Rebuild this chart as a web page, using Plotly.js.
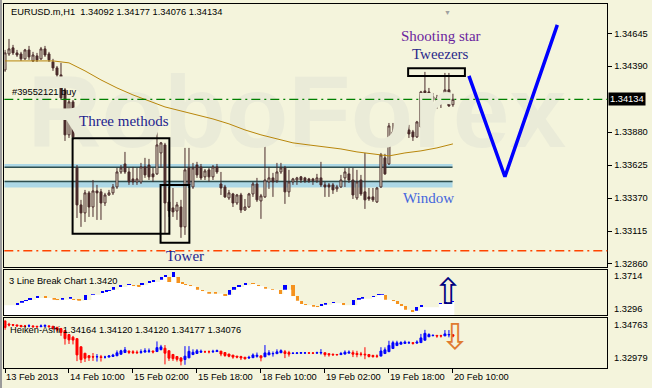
<!DOCTYPE html>
<html><head><meta charset="utf-8">
<script src="https://cdn.plot.ly/plotly-3.0.1.min.js"></script>
<style>html,body{margin:0;padding:0;background:#F4F4DC;}#chart{width:652px;height:388px;}</style>
</head><body><div id="chart"></div>
<script>
// ---------- main pane: EURUSD.m H1 candles ----------
const open = [1.34361,1.34485,1.34532,1.34493,1.34485,1.34447,1.34516,1.34431,1.34470,1.34447,
1.34524,1.34485,1.34423,1.34377,1.34323,1.34207,1.33859,1.34114,1.33603,1.33317,
1.33255,1.33410,1.33301,1.33425,1.33418,1.33332,1.33394,1.33410,1.33456,1.33572,
1.33634,1.33572,1.33518,1.33495,1.33495,1.33611,1.33626,1.33557,1.33557,1.33719,
1.33781,1.33340,1.33294,1.33270,1.33301,1.33147,1.33603,1.33456,1.33626,1.33611,
1.33534,1.33588,1.33534,1.33611,1.33479,1.33456,1.33371,1.33402,1.33332,1.33394,
1.33278,1.33301,1.33402,1.33479,1.33348,1.33379,1.33495,1.33526,1.33503,1.33572,
1.33603,1.33418,1.33495,1.33510,1.33534,1.33526,1.33518,1.33518,1.33503,1.33526,
1.33472,1.33472,1.33472,1.33441,1.33456,1.33526,1.33557,1.33510,1.33371,1.33510,
1.33418,1.33379,1.33379,1.33340,1.33456,1.33681,1.33634,1.33882,1.33866,1.33882,
1.33882,1.33897,1.33882,1.33843,1.33920,1.34199,1.34191,1.34153,1.34122,1.34145,
1.34129,1.34207,1.34092];
const high = [1.34516,1.34601,1.34555,1.34516,1.34501,1.34524,1.34547,1.34501,1.34493,1.34539,
1.34547,1.34501,1.34447,1.34392,1.34416,1.34245,1.34129,1.34129,1.33626,1.33356,
1.33433,1.33425,1.33510,1.33472,1.33441,1.33410,1.33433,1.33479,1.33603,1.33626,
1.33727,1.33603,1.33611,1.33603,1.33642,1.33681,1.33673,1.33603,1.33928,1.33804,
1.33797,1.33456,1.33448,1.33340,1.33356,1.33758,1.33758,1.33642,1.33650,1.33634,
1.33595,1.33603,1.33626,1.33634,1.33572,1.33472,1.33433,1.33410,1.33402,1.33410,
1.33363,1.33410,1.33495,1.33526,1.33402,1.33797,1.33611,1.33565,1.33642,1.33642,
1.33619,1.33588,1.33526,1.33534,1.33541,1.33534,1.33526,1.33526,1.33557,1.33650,
1.33495,1.33487,1.33487,1.33472,1.33549,1.33603,1.33603,1.33603,1.33588,1.33549,
1.33719,1.33448,1.33448,1.33456,1.33719,1.33712,1.33951,1.33951,1.33951,1.33936,
1.33959,1.33936,1.33897,1.33967,1.34199,1.34346,1.34222,1.34183,1.34168,1.34168,
1.34338,1.34338,1.34177];
const low = [1.34346,1.34470,1.34477,1.34462,1.34431,1.34439,1.34439,1.34423,1.34423,1.34439,
1.34462,1.34423,1.34354,1.34284,1.34129,1.33812,1.33835,1.33820,1.33216,1.33147,
1.33185,1.33224,1.33224,1.33201,1.33201,1.33309,1.33387,1.33394,1.33441,1.33557,
1.33557,1.33472,1.33472,1.33472,1.33479,1.33526,1.33510,1.33495,1.33549,1.33603,
1.33100,1.33224,1.33224,1.33201,1.33062,1.33085,1.33448,1.33441,1.33526,1.33510,
1.33510,1.33495,1.33510,1.33557,1.33394,1.33371,1.33356,1.33301,1.33317,1.33255,
1.33270,1.33294,1.33379,1.33340,1.33209,1.33371,1.33441,1.33379,1.33487,1.33557,
1.33325,1.33379,1.33472,1.33472,1.33487,1.33487,1.33487,1.33472,1.33487,1.33456,
1.33379,1.33379,1.33402,1.33418,1.33448,1.33456,1.33487,1.33363,1.33356,1.33387,
1.33286,1.33348,1.33340,1.33332,1.33448,1.33549,1.33626,1.33843,1.33812,1.33851,
1.33866,1.33835,1.33812,1.33835,1.33913,1.34153,1.34137,1.34114,1.34060,1.34067,
1.34122,1.34075,1.34076];
const close = [1.34493,1.34524,1.34493,1.34477,1.34447,1.34516,1.34462,1.34477,1.34439,1.34524,
1.34477,1.34439,1.34377,1.34323,1.34145,1.33859,1.34114,1.33843,1.33317,1.33255,
1.33410,1.33301,1.33425,1.33410,1.33332,1.33394,1.33410,1.33456,1.33572,1.33603,
1.33572,1.33495,1.33495,1.33518,1.33611,1.33549,1.33534,1.33534,1.33781,1.33797,
1.33332,1.33270,1.33263,1.33317,1.33147,1.33588,1.33472,1.33603,1.33549,1.33526,
1.33580,1.33534,1.33611,1.33572,1.33448,1.33379,1.33410,1.33332,1.33394,1.33278,
1.33301,1.33402,1.33479,1.33356,1.33387,1.33510,1.33526,1.33495,1.33572,1.33603,
1.33418,1.33495,1.33518,1.33526,1.33510,1.33503,1.33503,1.33503,1.33526,1.33472,
1.33456,1.33456,1.33433,1.33456,1.33510,1.33572,1.33510,1.33394,1.33495,1.33402,
1.33356,1.33363,1.33356,1.33448,1.33704,1.33557,1.33928,1.33859,1.33882,1.33874,
1.33897,1.33866,1.33843,1.33959,1.34191,1.34183,1.34153,1.34129,1.34145,1.34122,
1.34207,1.34083,1.34134];
const barIndex = open.map((_, i) => i);

// moving average (sampled every 4 bars)
const maBar = [0,4,8,12,16,20,24,28,32,36,40,44,48,52,56,60,64,68,72,76,80,84,88,92,96,100,104,108,112];
const maValue = [1.34431,1.34431,1.34431,1.34431,1.34416,1.34354,1.34284,1.34222,1.34168,1.34122,1.34075,1.34044,1.34013,1.33982,1.33944,1.33897,1.33859,1.33828,1.33797,1.33781,1.33766,1.33750,1.33727,1.33712,1.33696,1.33719,1.33735,1.33758,1.33789];

// levels and drawn objects
const orderPrice = 1.34134, orderLabel = '#39552121 buy';
const lastPrice = 1.34134;
const redLevel = 1.32963;
const windowBand1 = [1.33609, 1.33634], windowBand2 = [1.33451, 1.33503];
const windowLine1 = 1.33609, windowLine2 = 1.33499, windowEnd = 111.9;
const threeMethodsBox = {x: [16.9, 41.1], y: [1.33093, 1.33833]};
const towerBox = {x: [38.9, 46.1], y: [1.33025, 1.33472]};
const tweezersBox = {x: [100.8, 115], y: [1.34315, 1.34375]};
const forecastBar = [116, 125, 138.1];
const forecastPrice = [1.34315, 1.33535, 1.34710];

// axis ticks
const priceTicks = [1.34645,1.34390,1.33880,1.33625,1.33370,1.33115,1.32860];
const tickBar = [0,16,32,48,64,80,96,112];
const tickLabel = ['13 Feb 2013','14 Feb 10:00','15 Feb 02:00','15 Feb 18:00','18 Feb 10:00','19 Feb 02:00','19 Feb 18:00','20 Feb 10:00'];

// ---------- 3 line break pane ----------
const lbBar = [3.1,4.2,5.2,6.2,8.1,10.2,12.3,13.1,14.4,16.4,17.2,18.5,20.2,22.0,24.4,25.4,26.2,27.2,28.9,31.0,
32.2,33.5,34.3,36.2,37.2,39.2,40.1,41.0,42.2,43.3,44.4,45.2,46.4,48.1,49.4,51.0,52.7,55.0,56.2,57.3,
58.5,60.2,62.0,63.4,65.2,66.9,68.9,70.0,72.0,73.1,74.2,75.2,77.2,78.1,79.2,80.2,82.2,84.7,87.2,88.5,
89.4,92.2,93.5,94.3,95.2,97.1,98.1,99.1,100.2,101.9,102.9,104.2,108.9,110.2,111.9];
const lbOpen = [1.33875,1.34113,1.34242,1.34361,1.34544,1.34700,1.34544,1.34480,1.34389,1.34480,1.34480,1.34425,1.34361,1.34847,1.35003,1.35095,1.35159,1.35306,1.35553,1.35709,
1.35764,1.35764,1.35709,1.35892,1.36012,1.36223,1.36470,1.36443,1.36443,1.36443,1.36012,1.35828,1.35764,1.35525,1.35306,1.35095,1.35095,1.34911,1.34847,1.35306,
1.35553,1.35709,1.35920,1.35764,1.35525,1.35397,1.35306,1.35306,1.35709,1.34700,1.34297,1.33994,1.33875,1.33811,1.33783,1.33930,1.34058,1.34086,1.33875,1.34389,
1.34480,1.34636,1.34792,1.34847,1.34847,1.34389,1.34242,1.33994,1.33783,1.33472,1.33380,1.33692,1.33994,1.34058,1.34178];
const lbClose = [1.34086,1.34297,1.34389,1.34544,1.34700,1.34544,1.34389,1.34333,1.34544,1.34609,1.34361,1.34297,1.34847,1.34939,1.35159,1.35306,1.35306,1.35553,1.35709,1.35856,
1.35617,1.35553,1.35920,1.36076,1.36167,1.36470,1.36681,1.36012,1.36929,1.35920,1.35828,1.35709,1.35617,1.35306,1.35159,1.34939,1.34939,1.34728,1.35306,1.35525,
1.35709,1.35892,1.35828,1.35617,1.35397,1.35306,1.34911,1.35709,1.34700,1.34297,1.33994,1.33875,1.33747,1.33692,1.33994,1.34086,1.34178,1.33875,1.34389,1.34544,
1.34636,1.34755,1.34911,1.34939,1.34389,1.34242,1.33994,1.33783,1.33472,1.33233,1.33692,1.33930,1.34113,1.34178,1.34297];
const lbTitle = '3 Line Break Chart 1.3420';
const lbScale = ['1.3714', '1.3296'];
const lbRange = [1.3296, 1.3714];

// ---------- Heiken-Ashi pane ----------
const haSeedOpen = 1.3467;
const haTitle = 'Heiken-Ashi 1.34164 1.34120 1.34120 1.34177 1.34076';
const haScale = ['1.34763', '1.32979'];
const haRange = [1.32979, 1.34763];

const header = 'EURUSD.m,H1  1.34092 1.34177 1.34076 1.34134';

// ---------- derived ----------
const haO = [], haC = [], haH = [], haL = [];
for (let i = 0; i < open.length; i++) {
  const c = (open[i] + high[i] + low[i] + close[i]) / 4;
  const o = i === 0 ? haSeedOpen : (haO[i-1] + haC[i-1]) / 2;
  haO.push(o); haC.push(c);
  haH.push(Math.max(high[i], o, c)); haL.push(Math.min(low[i], o, c));
}
const lbBase = lbOpen.map((o, i) => Math.min(o, lbClose[i]));
const lbLen = lbOpen.map((o, i) => Math.abs(lbClose[i] - o));
const lbColor = lbOpen.map((o, i) => lbClose[i] > o ? '#0000FF' : '#F5921E');
const whiteX = [-1].concat(lbBar.map(v => v - 0.42), [lbBar[lbBar.length-1] + 0.45]);
const whiteY = [lbBase[0]].concat(lbBase, [lbBase[lbBase.length-1]]);

const BG = '#F4F4DC';
const BROWN = '#4a2b2b';
const SANS = 'Liberation Sans, Arial, sans-serif';
const SERIF = 'Liberation Serif, Times New Roman, serif';
const FS = 9.3;
const xRange = [-0.175, 150.6];
const xDom = [4.3/652, 607.3/652];
const mainDom = [1 - 266.7/388, 1 - 4.3/388];
const lbDom = [1 - 315.3/388, 1 - 269.7/388];
const haDom = [1 - 367.7/388, 1 - 318.3/388];

const traces = [
  {type: 'scatter', mode: 'text', x: [73], y: [1.33959], text: ['<b>RoboForex</b>'],
   textfont: {family: SANS, size: 102, color: '#eaebd8'}, xaxis: 'x', yaxis: 'y', hoverinfo: 'skip', showlegend: false},
  {type: 'scatter', mode: 'lines', x: maBar, y: maValue, line: {color: '#B8860B', width: 1},
   xaxis: 'x', yaxis: 'y', showlegend: false},
  {type: 'candlestick', x: barIndex, open: open, high: high, low: low, close: close,
   increasing: {line: {color: BROWN, width: 1}, fillcolor: BG},
   decreasing: {line: {color: BROWN, width: 1}, fillcolor: BROWN},
   whiskerwidth: 0, xaxis: 'x', yaxis: 'y', showlegend: false},
  {type: 'scatter', mode: 'lines', x: forecastBar, y: forecastPrice, line: {color: '#0000FF', width: 3.5},
   xaxis: 'x', yaxis: 'y', showlegend: false},
  {type: 'scatter', mode: 'lines', x: whiteX, y: whiteY, line: {width: 0, shape: 'hv'}, fill: 'tozeroy',
   fillcolor: '#FFFFFF', xaxis: 'x2', yaxis: 'y2', showlegend: false},
  {type: 'bar', x: lbBar, y: lbLen, base: lbBase, width: 0.85, marker: {color: lbColor, line: {width: 0}},
   xaxis: 'x2', yaxis: 'y2', showlegend: false},
  {type: 'candlestick', x: barIndex, open: haO, high: haH, low: haL, close: haC,
   increasing: {line: {color: '#0000FF', width: 1}, fillcolor: '#0000FF'},
   decreasing: {line: {color: '#FF0000', width: 1}, fillcolor: '#FF0000'},
   whiskerwidth: 0, xaxis: 'x3', yaxis: 'y3', showlegend: false}
];

const axBase = {showgrid: false, zeroline: false, showline: true, mirror: true, linecolor: '#000', linewidth: 1, fixedrange: true};
const rect = (b) => ({type: 'rect', xref: 'x', yref: 'y', x0: b.x[0], x1: b.x[1], y0: b.y[0], y1: b.y[1],
  line: {color: '#000', width: 2}, fillcolor: 'rgba(0,0,0,0)'});

const layout = {
  width: 652, height: 388, margin: {l: 0, r: 0, t: 0, b: 0},
  paper_bgcolor: BG, plot_bgcolor: BG, showlegend: false, bargap: 0,
  font: {family: SANS, size: FS, color: '#000'},
  xaxis: Object.assign({}, axBase, {domain: xDom, range: xRange, anchor: 'y', showticklabels: false, ticks: '', rangeslider: {visible: false}}),
  yaxis: Object.assign({}, axBase, {domain: mainDom, range: [1.32839, 1.34869], anchor: 'x', side: 'right',
    tickvals: priceTicks, ticktext: priceTicks.map(v => v.toFixed(5)), ticks: 'outside', ticklen: 4, tickcolor: '#000',
    tickfont: {family: SANS, size: FS, color: '#000'}}),
  xaxis2: Object.assign({}, axBase, {domain: xDom, range: xRange, anchor: 'y2', showticklabels: false, ticks: '', rangeslider: {visible: false}}),
  yaxis2: Object.assign({}, axBase, {domain: lbDom, range: lbRange, anchor: 'x2', side: 'right', showticklabels: false, ticks: ''}),
  xaxis3: Object.assign({}, axBase, {domain: xDom, range: xRange, anchor: 'y3', rangeslider: {visible: false},
    tickvals: tickBar, ticktext: tickLabel, ticks: 'outside', ticklen: 4, tickcolor: '#000',
    ticklabelposition: 'outside right', tickfont: {family: SANS, size: FS, color: '#000'}}),
  yaxis3: Object.assign({}, axBase, {domain: haDom, range: haRange, anchor: 'x3', side: 'right', showticklabels: false, ticks: ''}),
  shapes: [
    {type: 'rect', layer: 'below', xref: 'x', yref: 'y', x0: xRange[0], x1: windowEnd, y0: windowBand1[0], y1: windowBand1[1], fillcolor: '#ADD8E6', line: {width: 0}},
    {type: 'rect', layer: 'below', xref: 'x', yref: 'y', x0: xRange[0], x1: windowEnd, y0: windowBand2[0], y1: windowBand2[1], fillcolor: '#ADD8E6', line: {width: 0}},
    {type: 'line', layer: 'below', xref: 'x', yref: 'y', x0: xRange[0], x1: windowEnd, y0: windowLine1, y1: windowLine1, line: {color: '#2F4F4F', width: 1.5}},
    {type: 'line', layer: 'below', xref: 'x', yref: 'y', x0: xRange[0], x1: windowEnd, y0: windowLine2, y1: windowLine2, line: {color: '#2F4F4F', width: 1.5}},
    {type: 'line', xref: 'x domain', yref: 'y', x0: 0, x1: 1, y0: orderPrice, y1: orderPrice, line: {color: '#008000', width: 1.3, dash: '9px,4px,2px,4px'}},
    {type: 'line', xref: 'x domain', yref: 'y', x0: 0, x1: 1, y0: redLevel, y1: redLevel, line: {color: '#FF4500', width: 1.5, dash: '9px,4px,2px,4px'}},
    rect(threeMethodsBox), rect(towerBox), rect(tweezersBox),
    {type: 'rect', xref: 'paper', yref: 'paper', x0: 0, x1: 2/652, y0: 0, y1: 1, fillcolor: '#9a9a9a', line: {width: 0}}
  ],
  annotations: [
    {xref: 'paper', yref: 'paper', x: 9/652, y: 1 - 12/388, xanchor: 'left', yanchor: 'middle', text: header, showarrow: false, font: {size: FS}},
    {xref: 'paper', yref: 'y', x: 10/652, y: orderPrice, yshift: 7, xanchor: 'left', yanchor: 'middle', text: orderLabel, showarrow: false, font: {size: FS}},
    {xref: 'paper', yref: 'y', x: 608/652, y: lastPrice, xanchor: 'left', yanchor: 'middle', text: lastPrice.toFixed(5), showarrow: false,
     bgcolor: '#000', font: {size: FS, color: '#FFF'}, borderpad: 1},
    {xref: 'x', yref: 'y', x: 29.75, y: 1.33967, text: 'Three methods', showarrow: false, font: {family: SERIF, size: 15, color: '#1f1f8f'}},
    {xref: 'x', yref: 'y', x: 45, y: 1.32922, text: 'Tower', showarrow: false, font: {family: SERIF, size: 15, color: '#1f1f8f'}},
    {xref: 'x', yref: 'y', x: 106, y: 1.33367, text: 'Window', showarrow: false, font: {family: SERIF, size: 15, color: '#4466dd'}},
    {xref: 'x', yref: 'y', x: 109, y: 1.34620, text: 'Shooting star', showarrow: false, font: {family: SERIF, size: 15, color: '#6b1f9e'}},
    {xref: 'x', yref: 'y', x: 109, y: 1.34481, text: 'Tweezers', showarrow: false, font: {family: SERIF, size: 15, color: '#2a2a8a'}},
    {xref: 'paper', yref: 'paper', x: 453/652, y: 1 - 7/388, text: '▼', showarrow: false, font: {size: 7, color: '#a0a0a0'}},
    {xref: 'paper', yref: 'paper', x: 7/652, y: 1 - 281/388, xanchor: 'left', yanchor: 'middle', text: lbTitle, showarrow: false, font: {size: FS}},
    {xref: 'paper', yref: 'paper', x: 612/652, y: 1 - 276.3/388, xanchor: 'left', yanchor: 'middle', text: lbScale[0], showarrow: false, font: {size: FS}},
    {xref: 'paper', yref: 'paper', x: 612/652, y: 1 - 308.7/388, xanchor: 'left', yanchor: 'middle', text: lbScale[1], showarrow: false, font: {size: FS}},
    {xref: 'paper', yref: 'paper', x: 465/652, y: 1 - 291.5/388, yanchor: 'middle', text: '⇧', showarrow: false, font: {family: 'DejaVu Sans', size: 36, color: '#000080'}},
    {xref: 'paper', yref: 'paper', x: 8/652, y: 1 - 329.5/388, xanchor: 'left', yanchor: 'middle', text: haTitle, showarrow: false, font: {size: FS}},
    {xref: 'paper', yref: 'paper', x: 612/652, y: 1 - 325/388, xanchor: 'left', yanchor: 'middle', text: haScale[0], showarrow: false, font: {size: FS}},
    {xref: 'paper', yref: 'paper', x: 612/652, y: 1 - 358.3/388, xanchor: 'left', yanchor: 'middle', text: haScale[1], showarrow: false, font: {size: FS}},
    {xref: 'paper', yref: 'paper', x: 472/652, y: 1 - 336/388, yanchor: 'middle', text: '⇩', showarrow: false, font: {family: 'DejaVu Sans', size: 36, color: '#E07B30'}}
  ]
};

Plotly.newPlot('chart', traces, layout, {staticPlot: true, displayModeBar: false});
</script>
</body></html>
